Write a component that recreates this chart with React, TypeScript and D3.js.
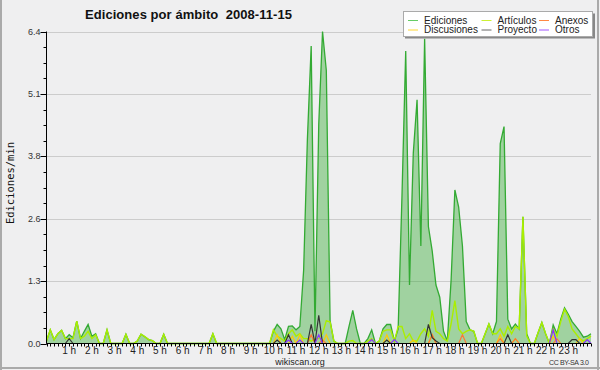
import React from 'react';
import * as d3 from 'd3';

// 10-minute buckets over the day (145 points, 00:00 .. 24:00)
const ediciones = [
  0.05,0.28,0.08,0.2,0.27,0.1,0.18,0.12,0.46,0.1,0.25,0.39,
  0.15,0.2,0,0,0.28,0,0,0,0,0.19,0,0,
  0.05,0.19,0.14,0.08,0.06,0,0,0.19,0,0,0,0,
  0,0,0,0,0,0,0,0,0.2,0,0,0,
  0,0,0,0,0,0,0,0,0,0,0,0,
  0.25,0.39,0.3,0.08,0.35,0.36,0.28,0.35,1.5,4.2,6.1,0.25,
  4.5,6.4,5.6,0.47,0.05,0,0,0,0.35,0.68,0.3,0,
  0,0.1,0.28,0,0.05,0.3,0.39,0.39,0.05,0.3,3.0,6.0,
  1.2,3.9,5.0,2.0,6.25,2.4,1.9,1.2,0.95,0.25,0.05,1.3,
  3.15,2.8,2.0,0.45,0.28,0.25,0,0,0.2,0.4,0.2,0.45,
  4.1,4.45,0.5,0.3,0.4,0.3,2.6,0.2,0,0,0.22,0.43,
  0.2,0,0.38,0.2,0.5,0.73,0.6,0.45,0.35,0.25,0.13,0.15,
  0.2,
];
const articulos = [
  0.05,0.28,0.08,0.2,0.27,0.1,0.1,0.1,0.46,0.1,0.15,0.25,
  0.1,0.18,0,0,0.28,0,0,0,0,0.19,0,0,
  0.05,0.19,0.14,0.08,0.06,0,0,0.19,0,0,0,0,
  0,0,0,0,0,0,0,0,0.2,0,0,0,
  0,0,0,0,0,0,0,0,0,0,0,0,
  0.28,0.15,0.1,0.05,0.2,0.28,0.15,0.2,0.1,0.1,0.05,0.1,
  0.1,0.2,0.47,0.44,0.05,0,0,0,0.05,0.06,0,0,
  0,0.05,0.1,0,0.05,0.25,0.28,0.28,0.05,0.35,0.35,0.1,
  0.2,0.05,0.05,0.2,0.3,0.15,0.68,0.25,0.2,0.1,0.05,0.4,
  0.88,0.3,0.2,0.25,0.28,0.25,0,0,0.2,0.4,0.2,0.2,
  0.3,0.15,0.35,0.2,0.35,0.3,2.6,0.15,0,0,0.22,0.43,
  0.2,0,0.3,0.15,0.45,0.7,0.55,0.3,0.2,0.1,0.05,0.1,
  0.15,
];
const anexos = [
  0,0,0,0,0,0,0,0,0,0,0,0,
  0,0,0,0,0,0,0,0,0,0,0,0,
  0,0,0,0,0,0,0,0,0,0,0,0,
  0,0,0,0,0,0,0,0,0,0,0,0,
  0,0,0,0,0,0,0,0,0,0,0,0,
  0,0,0,0,0,0,0,0,0,0,0.18,0,
  0,0.07,0,0,0,0,0,0,0,0,0,0,
  0,0,0,0,0,0,0,0,0,0,0,0,
  0,0,0,0,0,0,0.18,0,0,0,0,0,
  0,0,0.18,0,0,0,0,0,0,0,0,0,
  0.1,0,0,0,0.1,0,0,0,0,0,0,0,
  0,0,0,0.1,0,0,0,0,0,0,0,0,
  0,
];
const discusiones = [
  0,0,0,0,0,0,0,0,0,0,0,0,
  0,0,0,0,0,0,0,0,0,0,0,0,
  0,0,0,0,0,0,0,0,0,0,0,0,
  0,0,0,0,0,0,0,0,0,0,0,0,
  0,0,0,0,0,0,0,0,0,0,0,0,
  0,0.18,0,0,0,0.15,0,0.18,0,0,0,0,
  0,0,0.18,0,0,0,0,0,0,0,0,0,
  0,0,0,0,0,0,0.18,0,0,0,0,0,
  0,0.07,0,0,0,0,0.18,0,0,0,0,0,
  0,0,0,0,0,0,0,0,0,0,0,0,
  0.18,0,0,0,0.1,0,0,0,0,0,0,0,
  0,0,0.15,0,0,0,0,0,0,0.1,0,0,
  0,
];
const proyecto = [
  0,0,0,0,0,0,0.1,0,0,0,0,0,
  0,0,0,0,0,0,0,0,0,0,0,0,
  0,0,0,0,0,0,0,0,0,0,0,0,
  0,0,0,0,0,0,0,0,0,0,0,0,
  0,0,0,0,0,0,0,0,0,0,0,0,
  0,0.07,0,0,0.18,0,0,0,0,0,0.39,0,
  0.58,0,0,0,0,0,0,0,0,0,0,0,
  0,0,0,0,0,0,0.07,0,0,0,0,0,
  0,0,0,0,0,0.39,0.12,0.05,0,0,0,0,
  0,0,0,0,0,0,0,0,0,0,0,0,
  0,0,0.18,0,0,0,0,0,0,0,0,0,
  0,0,0,0,0,0,0,0.08,0.08,0,0,0,
  0,
];
const otros = [
  0,0,0,0,0,0,0,0,0,0,0,0,
  0,0,0,0,0,0,0,0,0,0,0,0,
  0,0,0,0,0,0,0,0,0,0,0,0,
  0,0,0,0,0,0,0,0,0,0,0,0,
  0,0,0,0,0,0,0,0,0,0,0,0,
  0,0,0,0,0.07,0,0,0.07,0,0,0,0,
  0.18,0,0,0,0,0,0,0,0,0,0,0,
  0,0,0.08,0,0,0,0,0,0.08,0,0,0,
  0,0,0,0,0,0,0,0,0,0,0,0,
  0,0,0,0,0,0,0,0,0,0,0,0,
  0,0,0,0,0,0,0,0,0,0,0,0,
  0,0,0.28,0,0,0,0,0,0,0,0,0.08,
  0,
];

const hourLabels = ['1 h','2 h','3 h','4 h','5 h','6 h','7 h','8 h','9 h','10 h','11 h','12 h','13 h','14 h','15 h','16 h','17 h','18 h','19 h','20 h','21 h','22 h','23 h'];
const yTickValues = [0, 1.28, 2.56, 3.84, 5.12, 6.4];
const yTickLabels = ['0.0', '1.3', '2.6', '3.8', '5.1', '6.4'];

const legendItems = [
  { name: 'Ediciones', color: '#66cc66' },
  { name: 'Artículos', color: '#ccf033' },
  { name: 'Anexos', color: '#ff8844' },
  { name: 'Discusiones', color: '#ffd633' },
  { name: 'Proyecto', color: '#666666' },
  { name: 'Otros', color: '#a155ff' },
];

const W = 600, H = 370;
const left = 46.5, right = 591, top = 31.5, bottom = 343.5;

export default function App() {
  const x = d3.scaleLinear().domain([0, 1440]).range([left, right]);
  const y = d3.scaleLinear().domain([0, 6.4]).range([bottom, top]);
  const t = (i: number) => i * 10;

  const line = d3.line<number>().x((_, i) => x(t(i))).y(d => y(d));
  const area = d3.area<number>().x((_, i) => x(t(i))).y0(y(0)).y1(d => y(d));

  const minorX = d3.range(0, 1441, 10);
  const minorY = d3.range(0, 6.41, 0.32);
  const hours = d3.range(1, 24);

  const sans = 'Liberation Sans, Arial, sans-serif';

  return (
    <svg width={W} height={H} style={{ position: 'absolute', left: 0, top: 0 }} fontFamily={sans}>
      <rect x={0} y={0} width={W} height={H} fill="#efeff0" />
      {/* frame */}
      <line x1={1} y1={0} x2={1} y2={H} stroke="#aaaaaa" strokeWidth={2} />
      <line x1={0} y1={368} x2={W} y2={368} stroke="#aaaaaa" strokeWidth={2} />
      <line x1={598} y1={0} x2={598} y2={H} stroke="#aaaaaa" strokeWidth={2} />

      {/* grid */}
      {yTickValues.slice(1).map((v, k) => (
        <line key={'g' + k} x1={left} x2={right} y1={Math.round(y(v)) + 0.5} y2={Math.round(y(v)) + 0.5} stroke="#cccccc" strokeWidth={1} />
      ))}

      {/* series */}
      <path d={area(ediciones) || ''} fill="#33aa33" fillOpacity={0.42} />
      <path d={line(ediciones) || ''} fill="none" stroke="#33aa33" strokeWidth={1.3} />
      <path d={line(articulos) || ''} fill="none" stroke="#aaee00" strokeWidth={1.4} />
      <path d={line(discusiones) || ''} fill="none" stroke="#ffcc00" strokeWidth={1.2} />
      <path d={line(anexos) || ''} fill="none" stroke="#ff7733" strokeWidth={1.2} />
      <path d={line(proyecto) || ''} fill="none" stroke="#333333" strokeWidth={1.2} />
      <path d={line(otros) || ''} fill="none" stroke="#8833ff" strokeWidth={1.2} />

      {/* y axis */}
      <line x1={left} x2={left} y1={top} y2={bottom} stroke="#000" strokeWidth={1} />
      {minorY.map((v, k) => (
        <line key={'my' + k} x1={left - 3} x2={left} y1={Math.round(y(v)) + 0.5} y2={Math.round(y(v)) + 0.5} stroke="#000" />
      ))}
      {yTickValues.map((v, k) => (
        <g key={'yt' + k}>
          <line x1={left - 6} x2={left} y1={Math.round(y(v)) + 0.5} y2={Math.round(y(v)) + 0.5} stroke="#000" />
          <text x={left - 6} y={y(v) + 3} textAnchor="end" fontSize={9} fill="#333">{yTickLabels[k]}</text>
        </g>
      ))}
      <text transform={`translate(13.5,183) rotate(-90)`} textAnchor="middle" fontFamily="DejaVu Sans Mono, monospace" fontSize={10.5} fill="#111">Ediciones/min</text>

      {/* x axis */}
      <line x1={left} x2={right} y1={bottom} y2={bottom} stroke="#000" strokeWidth={1} />
      {minorX.map((m, k) => (
        <line key={'mx' + k} x1={Math.round(x(m)) + 0.5} x2={Math.round(x(m)) + 0.5} y1={bottom} y2={bottom + 3} stroke="#000" />
      ))}
      {hours.map((h, k) => (
        <text key={'xl' + k} x={x(h * 60)} y={354} textAnchor="middle" fontSize={10} fill="#222">{hourLabels[k]}</text>
      ))}

      {/* title */}
      <text x={85} y={19} fontSize={13} fontWeight="bold" fill="#111" style={{ whiteSpace: 'pre' }} textLength={207}>Ediciones por ámbito  2008-11-15</text>

      {/* footer */}
      <text x={300} y={365} textAnchor="middle" fontSize={9} fill="#222">wikiscan.org</text>
      <text x={549} y={365} fontSize={7} fill="#333" textLength={40}>CC BY-SA 3.0</text>

      {/* legend */}
      <rect x={405} y={13.5} width={190} height={25} fill="#888888" />
      <rect x={403.5} y={11.5} width={189} height={25} fill="#ffffff" stroke="#aaaaaa" strokeWidth={1} />
      {legendItems.map((it, k) => {
        const col = k % 3, row = Math.floor(k / 3);
        const colX = [408, 481.5, 539][col];
        const ry = 20 + row * 9.5;
        return (
          <g key={'lg' + k}>
            <line x1={colX} x2={colX + 10} y1={ry + 0.5} y2={ry + 0.5} stroke={it.color} strokeWidth={1} />
            <text x={colX + 16} y={ry + 3.5} fontSize={10} fill="#222">{it.name}</text>
          </g>
        );
      })}
    </svg>
  );
}
